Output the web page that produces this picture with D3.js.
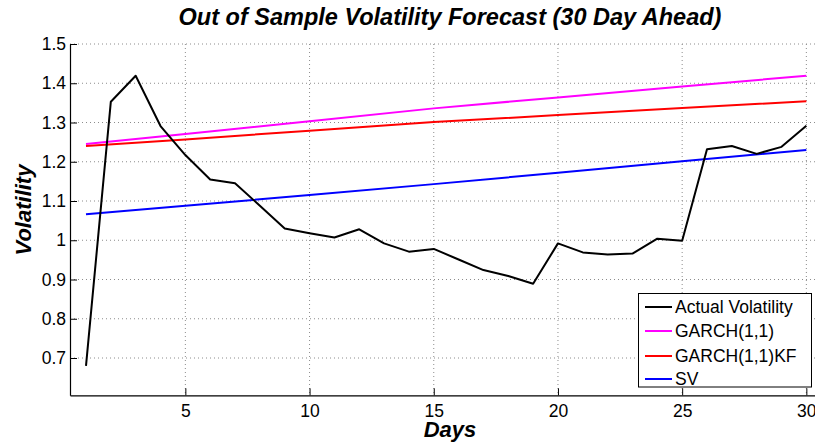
<!DOCTYPE html>
<html>
<head>
<meta charset="utf-8">
<script src="https://cdn.jsdelivr.net/npm/d3@7"></script>
<style>
  html, body { margin: 0; padding: 0; background: #fff; }
  svg { display: block; font-family: "Liberation Sans", Arial, Helvetica, sans-serif; }
</style>
</head>
<body>
<svg id="chart" width="815" height="445"></svg>
<script>
// ---- Data ----
const days = [1,2,3,4,5,6,7,8,9,10,11,12,13,14,15,16,17,18,19,20,21,22,23,24,25,26,27,28,29,30];
const actualVol = [0.680,1.353,1.419,1.291,1.217,1.155,1.145,1.088,1.030,1.018,1.007,1.028,0.992,0.971,0.978,0.951,0.924,0.909,0.889,0.992,0.969,0.964,0.966,1.004,0.999,1.232,1.240,1.220,1.238,1.292];
const forecastDays = [1,5,10,15,20,25,30];
const garch = [1.245,1.271,1.303,1.336,1.364,1.392,1.419];
const garchKF = [1.240,1.257,1.279,1.301,1.319,1.337,1.354];
const sv = [1.066,1.088,1.115,1.143,1.172,1.201,1.230];
const xTicks = [5,10,15,20,25,30];
const yTicks = [0.7,0.8,0.9,1.0,1.1,1.2,1.3,1.4,1.5];
const seriesNames = ["Actual Volatility","GARCH(1,1)","GARCH(1,1)KF","SV"];
const seriesColors = ["#000000","#ff00ff","#ff0000","#0000ff"];
const titleText = "Out of Sample Volatility Forecast (30 Day Ahead)";
const xLabel = "Days";
const yLabel = "Volatility";

// ---- Layout ----
const svg = d3.select("#chart");
const mLeft = 70, mRight = 815.2, mTop = 44, mBottom = 395.3;
const x = d3.scaleLinear().domain([0.356, 30.356]).range([mLeft, mRight]);
const y = d3.scaleLinear().domain([0.605, 1.5]).range([mBottom, mTop]);

// grid
const grid = svg.append("g").attr("class", "grid");
grid.selectAll("line.gx").data(xTicks).join("line").attr("class", "gx")
  .attr("x1", d => x(d)).attr("x2", d => x(d))
  .attr("y1", mTop).attr("y2", mBottom)
  .attr("stroke", "#8c8c8c").attr("stroke-width", 1)
  .attr("stroke-dasharray", "1,3");
grid.selectAll("line.gy").data(yTicks).join("line").attr("class", "gy")
  .attr("x1", mLeft).attr("x2", mRight)
  .attr("y1", d => y(d)).attr("y2", d => y(d))
  .attr("stroke", "#8c8c8c").attr("stroke-width", 1)
  .attr("stroke-dasharray", "1,3");

// axes
const fmt = d => (d === 1 ? "1" : d3.format(".1f")(d));
const yAxis = d3.axisLeft(y).tickValues(yTicks).tickFormat(fmt)
  .tickSizeInner(-7).tickSizeOuter(0).tickPadding(4);
const xAxis = d3.axisBottom(x).tickValues(xTicks).tickFormat(d3.format("d"))
  .tickSizeInner(-7).tickSizeOuter(0).tickPadding(9);

const gy = svg.append("g").attr("transform", `translate(${mLeft},0)`).call(yAxis);
const gx = svg.append("g").attr("transform", `translate(0,${mBottom})`).call(xAxis);
[gx, gy].forEach(g => {
  g.select(".domain").attr("stroke", "#000").attr("stroke-width", 1.2);
  g.selectAll(".tick line").attr("stroke", "#000").attr("stroke-width", 1);
  g.selectAll(".tick text").attr("fill", "#000")
    .style("font-family", '"Liberation Sans", Arial, sans-serif')
    .style("font-size", "17.5px");
});
gx.selectAll(".tick text").attr("dy", "0.71em");

// lines
const line = d3.line().x(d => x(d[0])).y(d => y(d[1]));
const series = [
  {name: seriesNames[1], color: seriesColors[1], pts: d3.zip(forecastDays, garch)},
  {name: seriesNames[2], color: seriesColors[2], pts: d3.zip(forecastDays, garchKF)},
  {name: seriesNames[3], color: seriesColors[3], pts: d3.zip(forecastDays, sv)},
  {name: seriesNames[0], color: seriesColors[0], pts: d3.zip(days, actualVol)}
];
svg.append("g").selectAll("path").data(series).join("path")
  .attr("d", d => line(d.pts))
  .attr("fill", "none")
  .attr("stroke", d => d.color)
  .attr("stroke-width", 2)
  .attr("stroke-linejoin", "round");

// title & labels
svg.append("text").attr("x", 450).attr("y", 25)
  .attr("text-anchor", "middle")
  .style("font-size", "23.5px").style("font-weight", "bold").style("font-style", "italic")
  .text(titleText);
svg.append("text").attr("x", 450).attr("y", 437)
  .attr("text-anchor", "middle")
  .style("font-size", "22px").style("font-weight", "bold").style("font-style", "italic")
  .text(xLabel);
svg.append("text").attr("transform", "translate(31,210) rotate(-90)")
  .attr("text-anchor", "middle")
  .style("font-size", "22px").style("font-weight", "bold").style("font-style", "italic")
  .text(yLabel);

// legend
const lg = svg.append("g");
lg.append("rect").attr("x", 638.5).attr("y", 293.5).attr("width", 173).attr("height", 93.5)
  .attr("fill", "#fff").attr("stroke", "#000").attr("stroke-width", 1);
const rowY = [307, 331, 356, 379];
seriesNames.forEach((n, i) => {
  lg.append("line").attr("x1", 645).attr("x2", 672).attr("y1", rowY[i]).attr("y2", rowY[i])
    .attr("stroke", seriesColors[i]).attr("stroke-width", 2);
  lg.append("text").attr("x", 675).attr("y", rowY[i]).attr("dy", "0.35em")
    .style("font-size", "17.5px").text(n);
});
</script>
</body>
</html>
